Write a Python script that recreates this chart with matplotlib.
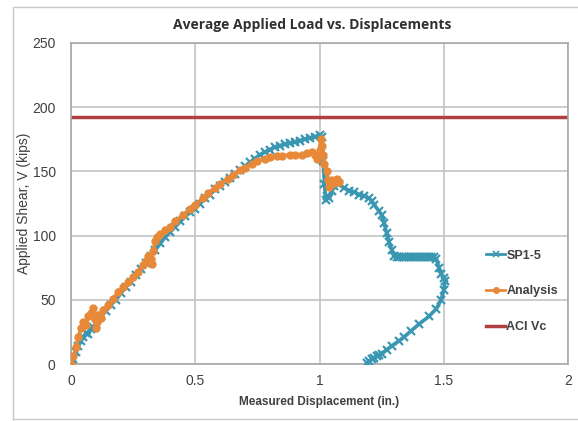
import matplotlib.pyplot as plt
from matplotlib.lines import Line2D

# SP1-5 test data (displacement in., shear kips)
sp_disp = [0.00, 0.01, 0.02, 0.03, 0.04, 0.05, 0.06, 0.07, 0.08, 0.09,
           0.10, 0.12, 0.14, 0.16, 0.18, 0.20, 0.22, 0.24, 0.26, 0.28,
           0.30, 0.32, 0.34, 0.36, 0.38, 0.40, 0.42, 0.44, 0.46, 0.48,
           0.50, 0.52, 0.54, 0.56, 0.58, 0.60, 0.62, 0.64, 0.66, 0.68,
           0.70, 0.72, 0.74, 0.76, 0.78, 0.80, 0.82, 0.84, 0.86, 0.88,
           0.90, 0.92, 0.94, 0.96, 0.98, 1.00, 1.01, 1.015, 1.02, 1.025,
           1.03, 1.04, 1.05, 1.06, 1.07, 1.08, 1.10, 1.12, 1.14, 1.16,
           1.18, 1.20, 1.21, 1.22, 1.24, 1.25, 1.26, 1.27, 1.28, 1.29,
           1.30, 1.31, 1.32, 1.33, 1.34, 1.35, 1.36, 1.37, 1.38, 1.39,
           1.40, 1.41, 1.42, 1.43, 1.44, 1.45, 1.46, 1.47, 1.48, 1.49,
           1.50, 1.505, 1.50, 1.49, 1.47, 1.44, 1.40, 1.37, 1.34, 1.32,
           1.29, 1.27, 1.25, 1.24, 1.23, 1.22, 1.21, 1.20, 1.19]
sp_shear = [0, 4, 9, 14, 18, 21, 24, 23, 27, 29,
            31, 37, 41, 46, 50, 55, 60, 64, 69, 74,
            79, 84, 89, 94, 99, 103, 107, 111, 115, 118,
            121, 125, 129, 132, 136, 139, 142, 145, 148, 151,
            154, 157, 160, 163, 165, 167, 169, 170, 171, 172,
            173, 174, 175, 176, 177, 178, 177, 158, 140, 128,
            131, 129, 135, 139, 141, 140, 137, 135, 134, 132,
            131, 129, 127, 124, 119, 116, 110, 102, 95, 89,
            84, 83, 83, 83, 83, 83, 83, 83, 83, 83,
            83, 83, 83, 83, 83, 83, 83, 82, 75, 70,
            67, 65, 58, 50, 43, 37, 31, 26, 21, 18,
            14, 11, 8, 7, 6, 5, 4, 2, 1]

# Analysis data
an_disp = [0.00, 0.01, 0.02, 0.03, 0.04, 0.05, 0.06, 0.07, 0.08, 0.09,
           0.095, 0.10, 0.105, 0.11, 0.12, 0.13, 0.15, 0.17, 0.19, 0.21,
           0.23, 0.25, 0.27, 0.29, 0.30, 0.31, 0.32, 0.325, 0.33, 0.34,
           0.345, 0.36, 0.38, 0.40, 0.42, 0.45, 0.48, 0.50, 0.53, 0.55,
           0.58, 0.60, 0.63, 0.65, 0.68, 0.70, 0.73, 0.75, 0.78, 0.80,
           0.83, 0.85, 0.88, 0.90, 0.93, 0.95, 0.97, 0.98, 0.99, 1.00,
           1.005, 1.01, 1.015, 1.02, 1.03, 1.035, 1.04, 1.05, 1.06, 1.07,
           1.08]
an_shear = [0, 6, 13, 21, 28, 33, 30, 37, 40, 44,
            35, 28, 33, 38, 36, 42, 46, 51, 56, 60,
            64, 68, 72, 77, 80, 84, 82, 78, 88, 96,
            99, 101, 104, 107, 111, 116, 121, 124, 129, 133,
            137, 140, 144, 147, 151, 153, 156, 158, 160, 161,
            162, 162, 163, 163, 163, 164, 165, 163, 160, 167,
            175, 170, 163, 156, 150, 143, 138, 143, 141, 144,
            142]

aci_vc = 192
x_ticks = [0, 0.5, 1, 1.5, 2]
y_ticks = [0, 50, 100, 150, 200, 250]

teal = '#3A97B2'
orange = '#E8893A'
red = '#B0403F'
grid_c = '#C4C4C4'
text_c = '#404040'

fig = plt.figure(figsize=(5.78, 4.21), dpi=100)
ax = fig.add_axes([71 / 578, 1 - 364 / 421, 497 / 578, 321 / 421])

ax.axhline(aci_vc, color=red, lw=2.5, zorder=2)
ax.plot(sp_disp, sp_shear, color=teal, lw=2.6, marker='x', ms=6, mew=1.6, zorder=3)
ax.plot(an_disp, an_shear, color=orange, lw=2.6, marker='o', ms=5, zorder=4)

ax.set_xlim(0, 2)
ax.set_ylim(0, 250)
ax.set_xticks(x_ticks)
ax.set_xticklabels(['0', '0.5', '1', '1.5', '2'])
ax.set_yticks(y_ticks)
ax.grid(True, color=grid_c, lw=1.2)
ax.set_axisbelow(True)
for s in ax.spines.values():
    s.set_color('#A8A8A8')
    s.set_linewidth(1.2)
ax.tick_params(length=0, labelsize=10, labelcolor=text_c, pad=7)
ax.tick_params(axis='y', pad=11)
for lab in ax.get_xticklabels() + ax.get_yticklabels():
    lab.set_family('Liberation Sans')

ax.set_xlabel('Measured Displacement (in.)', fontsize=8.5, fontweight='bold',
              color=text_c, family='Liberation Sans', labelpad=6)
ax.set_ylabel('Applied Shear, V (kips)', fontsize=10, color=text_c,
              family='Liberation Sans')
ax.yaxis.set_label_coords(-0.080, 0.5)
fig.text(312 / 578, 1 - 25 / 421, 'Average Applied Load vs. Displacements',
         ha='center', va='center', fontsize=10, fontweight='bold', color='#303030',
         family='Open Sans')

handles = [Line2D([], [], color=teal, lw=2, marker='x', ms=4, mew=1.2),
           Line2D([], [], color=orange, lw=2, marker='o', ms=4),
           Line2D([], [], color=red, lw=2.5)]
leg = ax.legend(handles, ['SP1-5', 'Analysis', 'ACI Vc'], loc='center left',
                bbox_to_anchor=(0.823, 0.226), frameon=False, borderpad=0,
                handlelength=1.5, handletextpad=0.1, labelspacing=1.9,
                prop={'family': 'Liberation Sans', 'weight': 'bold', 'size': 9})
for t in leg.get_texts():
    t.set_color(text_c)

# outer chart border
fig.add_artist(Line2D([13 / 578, 13 / 578, 1.0], [1 - 419 / 421, 1 - 7 / 421, 1 - 7 / 421],
                      color='#C8C8C8', lw=1, transform=fig.transFigure))
fig.add_artist(Line2D([13 / 578, 1.0], [1 - 419 / 421, 1 - 419 / 421],
                      color='#C8C8C8', lw=1, transform=fig.transFigure))

fig.savefig('out.png', dpi=100)
